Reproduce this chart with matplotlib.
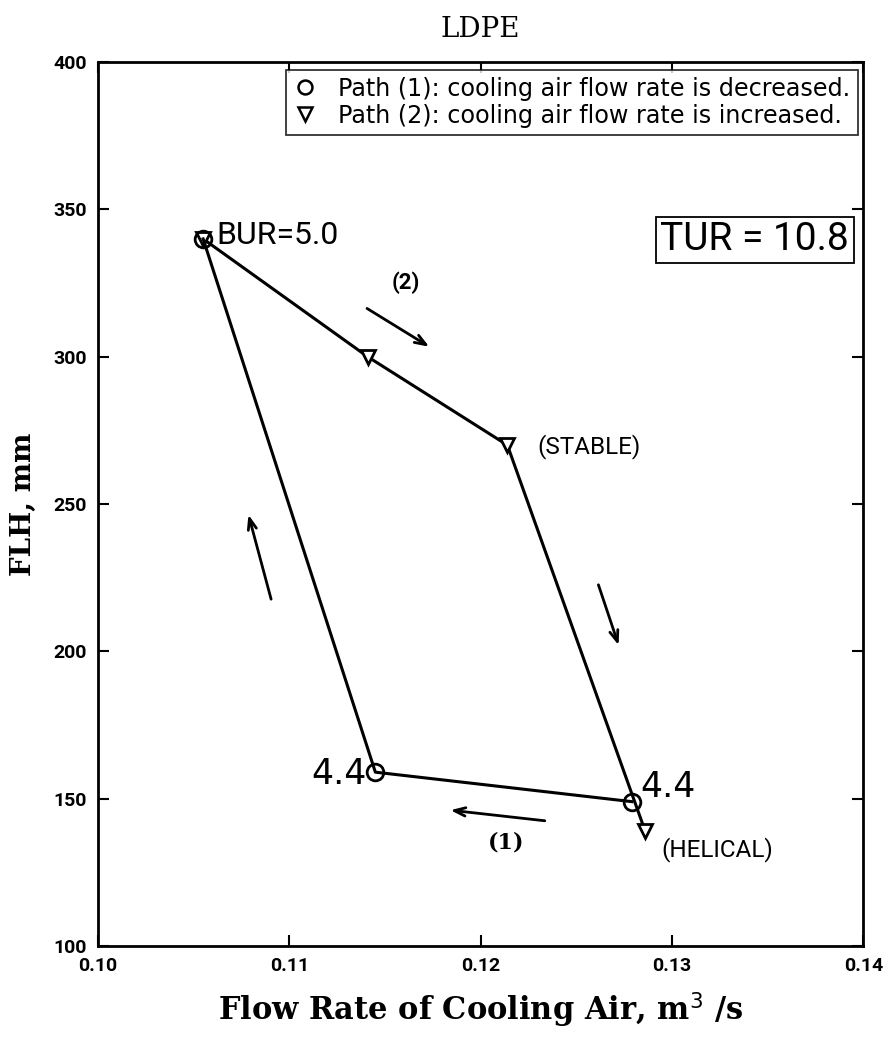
import matplotlib
matplotlib.use("Agg")
import matplotlib.pyplot as plt
from matplotlib.lines import Line2D

# Path (1): cooling air flow rate decreased (circles)
path1_flow = [0.1279, 0.1145, 0.1055]
path1_flh = [149, 159, 340]
# Path (2): cooling air flow rate increased (down triangles)
path2_flow = [0.1055, 0.1141, 0.1214, 0.1286]
path2_flh = [340, 300, 270, 139]

x_ticks = [0.10, 0.11, 0.12, 0.13, 0.14]
x_tick_labels = ["0.10", "0.11", "0.12", "0.13", "0.14"]
y_ticks = [100, 150, 200, 250, 300, 350, 400]

# direction arrows: (tail, head)
arrows = [
    ((0.11394, 316.9), (0.11744, 302.9)),
    ((0.12611, 223.5), (0.12726, 201.2)),
    ((0.10909, 216.8), (0.10783, 247.3)),
    ((0.12350, 142.4), (0.11828, 146.2)),
]

sans = ["Roboto", "DejaVu Sans"]
wide = ["DejaVu Sans"]
serif = ["DejaVu Serif"]

fig = plt.figure(figsize=(8.9, 10.46), dpi=100)
ax = fig.add_axes([0.110, 0.0956, 0.860, 0.845])

ax.plot(path2_flow, path2_flh, color="black", lw=2.2, marker="v", ms=10,
        mfc="white", mec="black", mew=2.0, zorder=3)
ax.plot(path1_flow, path1_flh, color="black", lw=2.2, marker="o", ms=12,
        mfc="none", mec="black", mew=2.0, zorder=4)

for tail, head in arrows:
    ax.annotate("", xy=head, xytext=tail,
                arrowprops=dict(arrowstyle="->,head_length=0.8,head_width=0.3",
                                color="black", lw=2.0))

ax.text(0.11608, 325, "(2)", fontsize=16, fontweight="bold", family=sans,
        ha="center", va="center")
ax.text(0.12136, 135, "(1)", fontsize=16, fontweight="bold", family=serif,
        ha="center", va="center")
ax.text(0.10621, 341, "BUR=5.0", fontsize=23, family=sans, ha="left", va="center")
ax.text(0.11405, 158.5, "4.4", fontsize=25, family=wide, ha="right", va="center")
ax.text(0.12835, 154, "4.4", fontsize=25, family=wide, ha="left", va="center")
ax.text(0.12298, 269.4, "(STABLE)", fontsize=17.5, family=sans, ha="left", va="center")
ax.text(0.12945, 132.6, "(HELICAL)", fontsize=17.5, family=sans, ha="left", va="center")

ax.text(0.858, 0.799, "TUR = 10.8", transform=ax.transAxes, fontsize=28,
        family=sans, ha="center", va="center",
        bbox=dict(boxstyle="square,pad=0.12", fc="white", ec="black", lw=1.3))

handles = [
    Line2D([], [], ls="none", marker="o", ms=10, mfc="none", mec="black", mew=1.8),
    Line2D([], [], ls="none", marker="v", ms=10, mfc="none", mec="black", mew=1.8),
]
labels = ["Path (1): cooling air flow rate is decreased.",
          "Path (2): cooling air flow rate is increased."]
leg = ax.legend(handles, labels, loc="upper right", bbox_to_anchor=(0.999, 0.997),
                prop={"family": wide, "size": 17.2}, frameon=True, fancybox=False,
                edgecolor="black", handlelength=1.0, handletextpad=0.9,
                borderpad=0.3, labelspacing=0.12, borderaxespad=0.2)
leg.get_frame().set_linewidth(1.3)

ax.set_xlim(0.10, 0.14)
ax.set_ylim(100, 400)
ax.set_xticks(x_ticks)
ax.set_xticklabels(x_tick_labels)
ax.set_yticks(y_ticks)
ax.tick_params(direction="in", length=8, width=1.5, top=True, right=True,
               labelsize=14, pad=8)
for lbl in ax.get_xticklabels() + ax.get_yticklabels():
    lbl.set_fontweight("bold")
    lbl.set_family(sans)
for sp in ax.spines.values():
    sp.set_linewidth(2.0)

ax.set_title("LDPE", fontsize=20, family=serif, pad=18)
ax.set_xlabel(r"Flow Rate of Cooling Air, m$^3$ /s", fontsize=22,
              family=serif, fontweight="bold", labelpad=11)
ax.set_ylabel("FLH, mm", fontsize=20, family=serif, fontweight="bold",
              labelpad=12)

fig.savefig("out.png", dpi=100)
